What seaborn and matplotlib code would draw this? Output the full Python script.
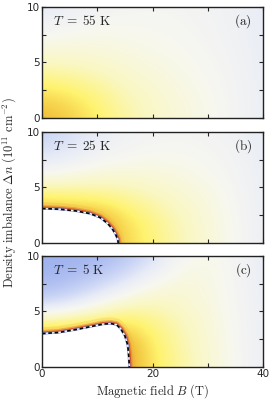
import numpy as np
import seaborn as sns
import matplotlib.pyplot as plt

# ---------------------------
# Data
# ---------------------------
b_grid = [0, 5, 10, 15, 20, 25, 30, 35, 40]      # magnetic field B (T)
n_grid = [0, 2, 4, 6, 8, 10]                      # density imbalance (1e11 cm^-2)

# colour value per grid point, rows = n_grid, cols = b_grid (-1 blue ... 1 red)
field_55K = [
    [0.80, 0.70, 0.52, 0.34, 0.22, 0.12, 0.04, -0.06, -0.18],
    [0.63, 0.56, 0.43, 0.28, 0.18, 0.09, 0.02, -0.07, -0.18],
    [0.35, 0.32, 0.26, 0.18, 0.11, 0.05, -0.01, -0.08, -0.19],
    [0.12, 0.13, 0.11, 0.08, 0.04, 0.01, -0.04, -0.10, -0.20],
    [-0.07, -0.02, 0.01, 0.01, 0.00, -0.02, -0.06, -0.12, -0.21],
    [-0.26, -0.18, -0.10, -0.06, -0.04, -0.05, -0.08, -0.13, -0.22],
]
field_25K = [
    [0.90, 0.90, 0.90, 0.65, 0.45, 0.28, 0.13, 0.00, -0.18],
    [0.90, 0.90, 0.90, 0.60, 0.42, 0.26, 0.12, -0.01, -0.18],
    [0.55, 0.50, 0.45, 0.38, 0.28, 0.18, 0.08, -0.03, -0.18],
    [0.03, 0.08, 0.14, 0.15, 0.12, 0.08, 0.02, -0.06, -0.19],
    [-0.36, -0.24, -0.11, -0.04, 0.00, 0.00, -0.03, -0.09, -0.20],
    [-0.55, -0.40, -0.24, -0.12, -0.07, -0.06, -0.07, -0.12, -0.22],
]
field_5K = [
    [0.90, 0.90, 0.90, 0.90, 0.55, 0.35, 0.16, 0.00, -0.18],
    [0.90, 0.90, 0.90, 0.90, 0.52, 0.32, 0.14, -0.01, -0.18],
    [0.45, 0.50, 0.55, 0.55, 0.42, 0.27, 0.12, -0.02, -0.18],
    [-0.60, -0.40, -0.10, 0.14, 0.22, 0.17, 0.08, -0.03, -0.19],
    [-0.95, -0.85, -0.65, -0.35, -0.06, 0.10, 0.07, -0.05, -0.20],
    [-1.00, -1.00, -0.95, -0.75, -0.40, -0.05, 0.05, -0.06, -0.22],
]

# boundary of the white (condensed) region
edge_25K_b = [0, 3, 6, 8.7, 10.5, 11.8, 12.7, 13.3, 13.7, 13.8]
edge_25K_n = [3.1, 3.05, 2.9, 2.65, 2.3, 1.8, 1.3, 0.8, 0.35, 0.0]
edge_5K_b = [0, 3, 6, 9, 11, 12.5, 13.5, 14.3, 15.0, 15.5, 15.7, 15.8]
edge_5K_n = [3.0, 3.1, 3.35, 3.65, 3.85, 3.9, 3.8, 3.4, 2.8, 2.0, 1.0, 0.0]

panels = [
    ("55", "(a)", field_55K, None, None),
    ("25", "(b)", field_25K, edge_25K_b, edge_25K_n),
    ("5", "(c)", field_5K, edge_5K_b, edge_5K_n),
]

# ---------------------------
# Style
# ---------------------------
sns.set_style("ticks")
plt.rcParams["mathtext.fontset"] = "cm"
plt.rcParams["font.family"] = ["DejaVu Sans"]

cmap = sns.blend_palette(
    ["#9fb2ee", "#b5c3f2", "#ccd6f5", "#e7ebf7", "#f7f7f1",
     "#faf7c0", "#fff36e", "#f2c23c", "#c8402a"], as_cmap=True)

fig = plt.figure(figsize=(2.69, 4.01), dpi=100)
bottoms = [0.706, 0.394, 0.085]
axes = [fig.add_axes([0.156, b, 0.822, 0.277]) for b in bottoms]

for ax, (temp, tag, field, eb, en) in zip(axes, panels):
    ax.imshow(np.array(field), origin="lower", cmap=cmap, vmin=-1, vmax=1,
              extent=[-2.5, 42.5, -1, 11], aspect="auto",
              interpolation="bicubic")
    if eb is not None:
        for lw, al, col in [(9, 0.25, "#f0b040"), (5, 0.45, "#e07030"),
                            (3, 0.7, "#c83a28")]:
            ax.plot(eb, en, color=col, lw=lw, alpha=al, solid_capstyle="butt")
        ax.fill_between(eb, 0, en, color="white", lw=0, zorder=3)
        ax.plot(eb, en, color="#8090e0", lw=1.6, zorder=4)
        ax.plot(eb, en, color="white", lw=0.8, zorder=4)
        ax.plot(eb, en, color="black", lw=1.2, ls=(0, (2.2, 1.6)), zorder=5)
    ax.set_xlim(0, 40)
    ax.set_ylim(0, 10)
    ax.set_xticks([0, 10, 20, 30, 40])
    ax.set_yticks([0, 5, 10])
    ax.set_yticks([2.5, 7.5], minor=True)
    ax.tick_params(which="both", direction="in", top=True, right=True,
                   length=3, width=0.8, labelsize=7.5, pad=1.5)
    for s in ax.spines.values():
        s.set_linewidth(1.0)
        s.set_color("#222222")
        s.set_zorder(6)
    ax.text(0.05, 0.87, r"$T\;=\;%s\ \mathrm{K}$" % temp,
            transform=ax.transAxes, fontsize=9.5, va="center", ha="left",
            zorder=7)
    ax.text(0.95, 0.87, r"$\mathrm{%s}$" % tag, transform=ax.transAxes,
            fontsize=9.5, va="center", ha="right", zorder=7)

for ax in axes[:2]:
    ax.set_xticklabels(["", "", "", "", ""])
axes[2].set_xticklabels(["0", "", "20", "", "40"])

axes[2].set_xlabel(r"$\mathrm{Magnetic\ field}\ B\ \mathrm{(T)}$", fontsize=9,
                   labelpad=2)
fig.text(0.035, 0.52,
         r"$\mathrm{Density\ imbalance}\ \Delta n\ (10^{11}\ \mathrm{cm}^{-2})$",
         rotation=90, fontsize=9, va="center", ha="center")

fig.savefig("out.png", dpi=100)
